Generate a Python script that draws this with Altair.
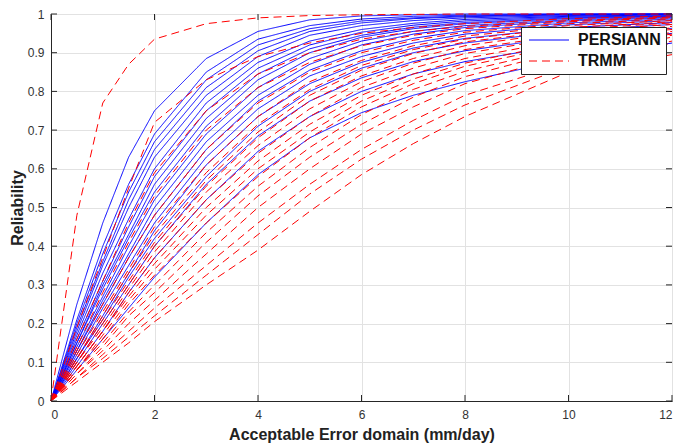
import altair as alt
import pandas as pd

# ---------------- data ----------------
X_VALUES = [0, 0.5, 1, 1.5, 2, 3, 4, 5, 6, 7, 8, 10, 12]

PERSIANN = [
    [0, .25, .46, .63, .75, .885, .955, .985, .995, .998, 1, 1, 1],
    [0, .21, .40, .56, .69, .85, .935, .97, .987, .994, .997, 1, 1],
    [0, .20, .38, .54, .67, .83, .92, .962, .982, .99, .995, .999, 1],
    [0, .19, .36, .52, .65, .81, .905, .955, .977, .988, .993, .998, 1],
    [0, .18, .35, .50, .63, .79, .89, .945, .97, .983, .99, .996, .999],
    [0, .17, .33, .47, .60, .77, .875, .93, .96, .976, .986, .994, .998],
    [0, .16, .31, .45, .58, .75, .86, .92, .953, .971, .982, .992, .996],
    [0, .15, .30, .43, .56, .73, .845, .91, .945, .966, .978, .99, .995],
    [0, .15, .29, .42, .54, .71, .83, .90, .94, .962, .975, .988, .994],
    [0, .14, .27, .40, .52, .69, .81, .885, .93, .955, .97, .985, .992],
    [0, .13, .26, .38, .50, .67, .79, .87, .92, .948, .965, .982, .99],
    [0, .13, .25, .37, .48, .65, .775, .855, .905, .937, .957, .977, .987],
    [0, .12, .24, .35, .46, .63, .755, .84, .89, .925, .948, .972, .983],
    [0, .11, .22, .33, .44, .61, .735, .82, .875, .912, .937, .965, .978],
    [0, .11, .21, .32, .42, .58, .71, .80, .86, .90, .925, .957, .973],
    [0, .10, .20, .30, .40, .56, .685, .775, .835, .877, .905, .943, .963],
    [0, .09, .18, .28, .37, .52, .645, .735, .80, .845, .877, .922, .95],
    [0, .08, .16, .24, .32, .46, .585, .68, .745, .79, .825, .885, .925],
]

TRMM = [
    [0, .48, .77, .87, .935, .975, .99, .996, .998, .999, 1, 1, 1],
    [0, .19, .37, .55, .72, .83, .89, .925, .95, .965, .975, .988, .995],
    [0, .16, .31, .46, .59, .75, .845, .90, .935, .955, .968, .983, .992],
    [0, .14, .28, .41, .53, .70, .81, .875, .918, .945, .962, .98, .99],
    [0, .13, .25, .37, .48, .65, .77, .85, .90, .932, .953, .975, .986],
    [0, .12, .23, .34, .45, .61, .735, .825, .88, .918, .943, .97, .983],
    [0, .11, .22, .33, .43, .59, .715, .805, .867, .908, .935, .965, .98],
    [0, .11, .21, .31, .41, .57, .695, .79, .855, .898, .928, .96, .977],
    [0, .10, .20, .30, .40, .555, .68, .775, .84, .885, .918, .955, .973],
    [0, .10, .19, .29, .385, .54, .66, .755, .825, .873, .908, .948, .968],
    [0, .09, .18, .28, .37, .52, .64, .735, .81, .86, .898, .942, .964],
    [0, .09, .18, .27, .355, .50, .62, .715, .79, .845, .885, .935, .96],
    [0, .08, .17, .26, .34, .48, .60, .695, .775, .832, .873, .928, .955],
    [0, .08, .16, .25, .325, .46, .58, .68, .76, .82, .865, .922, .952],
    [0, .08, .15, .23, .30, .435, .555, .655, .74, .805, .852, .915, .948],
    [0, .07, .14, .22, .28, .41, .53, .63, .715, .785, .838, .908, .945],
    [0, .07, .13, .20, .26, .38, .50, .60, .69, .76, .82, .895, .94],
    [0, .06, .12, .18, .24, .35, .46, .56, .65, .725, .79, .875, .93],
    [0, .06, .11, .165, .22, .325, .43, .535, .625, .70, .765, .865, .925],
    [0, .05, .10, .15, .205, .30, .39, .49, .585, .665, .735, .85, .895],
]

SERIES_NAMES = ["PERSIANN", "TRMM"]
SERIES_COLORS = ["#0000ff", "#ff0000"]
X_TICKS = [0, 2, 4, 6, 8, 10, 12]
Y_TICKS = [0, 0.1, 0.2, 0.3, 0.4, 0.5, 0.6, 0.7, 0.8, 0.9, 1]
X_TITLE = "Acceptable Error domain (mm/day)"
Y_TITLE = "Reliability"

# ---------------- table ----------------
rows = []
for name, curves in zip(SERIES_NAMES, (PERSIANN, TRMM)):
    for i, curve in enumerate(curves):
        for xv, yv in zip(X_VALUES, curve):
            rows.append({"source": name, "curve": f"{name}_{i}", "x": xv, "y": yv})
df = pd.DataFrame(rows)

W, H = 621, 387
FONT = "Liberation Sans"
AX = "#262626"
TICK_LEN = 6

x_scale = alt.Scale(domain=[0, 12], nice=False, zero=False)
y_scale = alt.Scale(domain=[0, 1], nice=False)

x_axis = alt.Axis(values=X_TICKS, title=X_TITLE, ticks=False, tickSize=0,
                  labelPadding=8, titlePadding=6, format="d", labelOverlap=False)
y_axis = alt.Axis(values=Y_TICKS, title=Y_TITLE, ticks=False, tickSize=0,
                  labelPadding=7, titlePadding=2, format=".1~f", labelOverlap=False)

legend = alt.Legend(title=None, orient="none", legendX=470, legendY=13,
                    direction="vertical")

color = alt.Color("source:N", scale=alt.Scale(domain=SERIES_NAMES, range=SERIES_COLORS),
                  legend=legend)
dash = alt.StrokeDash("source:N",
                      scale=alt.Scale(domain=SERIES_NAMES, range=[[1, 0], [8, 5]]),
                      legend=legend)

X_ENC = alt.X("x:Q", scale=x_scale, axis=x_axis)
Y_ENC = alt.Y("y:Q", scale=y_scale, axis=y_axis)

base = alt.Chart(df).mark_line(strokeWidth=1).encode(
    x=X_ENC, y=Y_ENC, color=color, strokeDash=dash, detail="curve:N",
)
blue = base.transform_filter(alt.datum.source == "PERSIANN")
red = base.transform_filter(alt.datum.source == "TRMM")

# inward tick marks on all four sides, at the tick values
xt = pd.DataFrame({"x": X_TICKS})
yt = pd.DataFrame({"y": Y_TICKS})
tick_style = dict(color=AX, strokeWidth=1)
xb = alt.Chart(xt).mark_rule(**tick_style).encode(
    x=X_ENC, y=alt.value(H), y2=alt.value(H - TICK_LEN))
xtop = alt.Chart(xt).mark_rule(**tick_style).encode(
    x=X_ENC, y=alt.value(0), y2=alt.value(TICK_LEN))
yl = alt.Chart(yt).mark_rule(**tick_style).encode(
    y=Y_ENC, x=alt.value(0), x2=alt.value(TICK_LEN))
yr = alt.Chart(yt).mark_rule(**tick_style).encode(
    y=Y_ENC, x=alt.value(W), x2=alt.value(W - TICK_LEN))

chart = alt.layer(blue, red, xb, xtop, yl, yr).properties(
    width=W, height=H,
    autosize=alt.AutoSizeParams(type="none"),
    padding={"left": 43, "top": 6, "right": 5, "bottom": 46},
).configure_view(
    stroke=AX, strokeWidth=1
).configure_axis(
    labelFont=FONT, labelFontSize=12, labelColor="#333333",
    titleFont=FONT, titleFontSize=16, titleFontWeight="bold", titleColor="#222222",
    domainColor=AX, domainWidth=1,
    gridColor="#e2e2e2", gridWidth=1,
).configure_legend(
    fillColor="white", strokeColor=AX, padding=5, cornerRadius=0,
    symbolType="M-1,0H7", symbolSize=100, symbolStrokeWidth=1,
    labelFont=FONT, labelFontSize=16, labelFontWeight="bold", labelColor="#111111",
    labelOffset=36, rowPadding=5,
)

chart.save("out.html", embed_options={"renderer": "svg", "actions": False})
